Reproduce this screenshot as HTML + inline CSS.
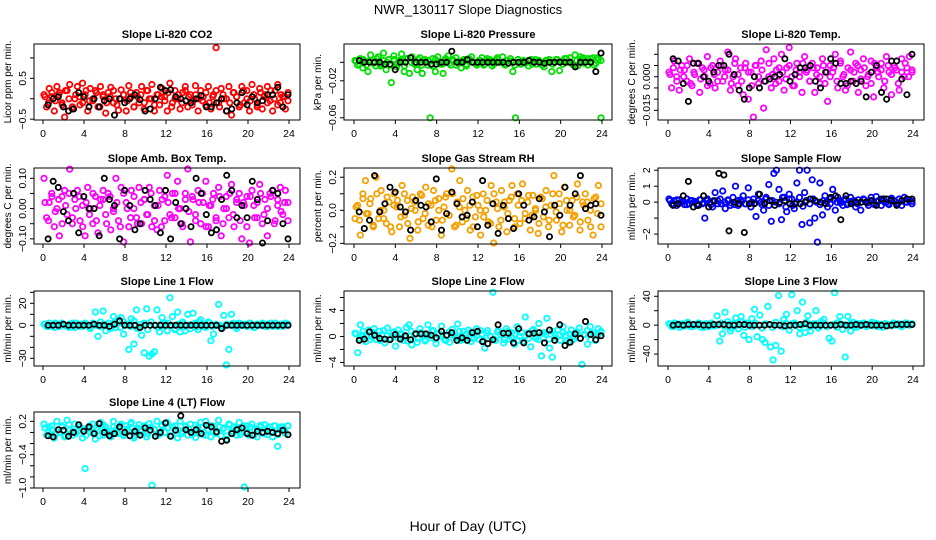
<!DOCTYPE html>
<html><head><meta charset="utf-8">
<style>
html,body{margin:0;padding:0;background:#fff;}
svg{display:block;font-family:"Liberation Sans",sans-serif;}
</style></head>
<body>
<svg id="chart" width="936" height="540" viewBox="0 0 936 540" xmlns="http://www.w3.org/2000/svg">
<rect x="0" y="0" width="936" height="540" fill="#fff"/>
<text x="468" y="14" text-anchor="middle" font-size="13">NWR_130117  Slope Diagnostics</text>
<text x="468" y="531" text-anchor="middle" font-size="14">Hour of Day (UTC)</text>
</svg>
<script>
// ---- data: colored series (all samples), dense core samples, and black series (half-hourly) ----
const xTicks = [0,4,8,12,16,20,24];
const co2Color = [0.1,-0.2,0.25,0.05,-0.3,0.3,0.15,-0.1,-0.45,0.2,0.35,-0.25,0.0,0.3,-0.15,0.38,0.1,-0.3,0.25,-0.05,0.2,-0.2,0.3,0.05,-0.35,0.15,0.28,-0.1,0.0,-0.28,0.22,0.1,-0.3,0.32,0.05,-0.2,0.15,-0.1,0.3,-0.25,0.2,0.0,0.35,-0.3,0.1,-0.15,0.25,0.05,-0.3,0.38,-0.1,0.2,0.0,-0.25,0.15,0.3,-0.2,0.1,-0.05,0.32,-0.3,0.2,0.05,-0.15,0.3,-0.25,0.1,1.25,-0.1,0.25,0.0,-0.3,0.3,-0.4,0.15,0.05,-0.2,0.3,-0.1,0.2,-0.3,0.35,0.0,-0.15,0.25,-0.25,0.1,0.3,-0.05,-0.3,0.2,0.35,-0.1,0.05,-0.25,0.15];
const co2Core = [0.05,-0.1,0.15,-0.05,0.1,-0.15,0.2,0.0,-0.2,0.1,0.05,-0.1,0.2,-0.05,0.0,0.15,-0.2,0.1,-0.1,0.05,0.2,-0.15,0.0,0.1,-0.05,0.15,-0.2,0.05,0.1,-0.1,0.2,0.0,-0.15,0.1,0.05,-0.05,0.15,-0.2,0.0,0.1,-0.1,0.2,0.05,-0.15,0.1,0.0,-0.05,0.15,-0.1,0.05,0.2,-0.2,0.1,0.0,-0.1,0.15,0.05,-0.15,0.2,0.0,-0.05,0.1,-0.2,0.15,0.05,-0.1,0.2,0.0,-0.15,0.1,0.05,-0.05];
const co2Black = [-0.15,0.0,0.05,-0.2,-0.3,-0.25,0.15,0.05,-0.2,0.0,-0.2,-0.05,0.0,-0.4,0.0,-0.1,0.0,0.1,-0.02,-0.3,-0.25,0.0,0.28,0.2,0.22,0.05,0.0,-0.05,-0.1,0.0,0.08,-0.2,-0.2,-0.1,0.0,-0.3,-0.25,-0.1,0.15,-0.15,0.05,-0.1,-0.05,0.1,0.1,0.28,-0.2,0.1];
const presColor = [0.002,-0.003,0.004,-0.006,0.001,-0.01,0.008,0.0,-0.004,0.006,-0.002,0.01,-0.008,0.003,-0.022,0.007,-0.005,0.002,0.009,-0.01,0.004,-0.012,0.006,0.0,-0.008,0.005,-0.012,0.003,-0.003,-0.06,0.004,-0.01,0.006,-0.002,-0.012,0.004,0.007,-0.003,0.002,0.005,-0.001,-0.006,0.003,-0.004,0.004,0.006,0.0,-0.003,0.002,0.005,-0.002,0.004,0.003,-0.004,0.002,0.005,0.0,0.006,-0.003,0.002,0.004,-0.01,-0.06,0.003,-0.002,0.002,0.0,-0.004,0.003,0.001,-0.002,0.002,0.0,-0.005,0.002,0.003,-0.01,0.0,0.003,-0.009,0.001,0.004,0.0,0.005,-0.002,0.008,-0.004,0.006,0.005,0.002,-0.003,0.004,0.005,-0.001,0.003,-0.06];
const presCore = [0.001,-0.002,0.003,-0.003,0.002,-0.001,0.004,-0.004,0.002,0.0,-0.003,0.003,-0.001,0.002,-0.004,0.004,0.0,-0.002,0.003,-0.003,0.001,0.002,-0.004,0.003,0.0,-0.002,0.002,-0.001,0.003,-0.003,0.001,0.002,-0.002,0.003,0.0,-0.001,0.002,-0.003,0.002,0.001,-0.002,0.003,0.0,-0.002,0.002,0.001,-0.003,0.003,0.0,-0.001,0.002,-0.002,0.003,0.001,-0.003,0.002,0.0,-0.002,0.003,0.001,-0.002,0.004,0.0,-0.003,0.002,0.003,-0.001,0.004,0.0,-0.003,0.005,0.002];
const presBlack = [0.002,0.0,0.0,0.0,0.0,-0.002,-0.002,-0.008,0.0,0.0,0.005,0.0,0.0,0.0,-0.002,-0.002,0.0,0.0,0.012,0.0,0.0,0.003,0.0,0.0,0.0,0.0,0.0,0.0,0.0,-0.001,0.0,0.0,0.0,0.002,0.0,0.0,-0.001,0.0,0.0,0.0,0.0,0.0,-0.005,0.0,0.0,0.0,-0.01,0.01];
const tempColor = [0.002,-0.005,0.007,0.0,-0.006,0.005,0.003,-0.002,0.008,-0.004,0.001,0.006,-0.007,0.004,0.0,0.009,-0.003,0.005,-0.005,0.002,0.007,-0.002,0.003,0.011,-0.006,0.0,0.008,-0.004,0.004,-0.008,0.006,-0.01,0.002,-0.018,0.005,-0.003,0.007,-0.014,0.012,0.0,-0.005,0.008,0.003,-0.002,0.01,-0.006,0.004,0.013,0.0,-0.004,0.006,0.002,-0.007,0.009,0.003,-0.002,0.006,-0.007,0.004,0.0,0.008,-0.003,-0.011,0.005,0.002,0.01,-0.005,0.007,0.0,-0.006,0.004,0.011,-0.002,0.006,-0.007,0.003,0.008,-0.004,0.001,0.007,-0.009,0.004,0.0,0.006,-0.005,0.009,0.002,-0.008,0.005,0.003,-0.006,0.008,0.0,0.004,0.009,0.002];
const tempCore = [0.001,0.004,-0.002,0.003,0.0,0.005,-0.003,0.002,0.006,-0.001,0.003,-0.004,0.004,0.001,-0.002,0.005,0.0,0.003,-0.003,0.006,0.001,-0.002,0.004,0.002,-0.004,0.005,0.0,0.003,-0.002,0.006,0.001,-0.003,0.004,0.002,-0.001,0.005,-0.004,0.003,0.0,0.006,0.002,-0.002,0.004,0.001,-0.003,0.005,0.002,0.0,0.004,-0.002,0.006,0.001,-0.004,0.003,0.002,0.005,-0.001,0.004,0.0,-0.003,0.006,0.002,0.003,-0.002,0.005,0.001,0.004,-0.003,0.002,0.006,0.0,0.003];
const tempBlack = [0.008,0.007,-0.003,-0.011,0.006,0.006,0.0,-0.002,0.002,0.005,0.005,0.01,0.001,-0.006,-0.01,-0.005,0.0,-0.005,-0.002,-0.001,0.0,0.001,0.008,-0.002,0.001,0.004,0.004,0.005,-0.002,-0.005,0.002,0.008,0.006,-0.003,-0.003,-0.002,-0.003,-0.002,-0.009,0.002,0.005,-0.007,-0.01,0.007,0.007,-0.001,-0.008,0.01];
const ambColor = [0.1,-0.03,0.02,0.05,-0.06,0.0,-0.09,0.04,0.06,-0.02,0.13,-0.05,0.03,0.06,-0.04,0.01,-0.09,0.07,0.0,-0.05,0.04,-0.08,0.03,0.06,-0.02,0.05,-0.07,0.0,0.1,-0.04,0.07,-0.11,0.02,-0.06,0.06,0.0,-0.03,0.07,-0.05,0.03,-0.02,0.07,-0.06,0.01,-0.07,0.06,0.03,-0.04,0.11,-0.02,0.05,-0.03,0.09,0.0,-0.06,0.05,0.15,-0.11,0.03,-0.02,0.06,-0.05,0.02,0.09,-0.06,0.01,0.05,-0.04,0.07,-0.09,0.0,0.04,-0.03,0.08,-0.06,0.02,0.05,-0.1,0.01,0.04,-0.12,0.06,-0.03,0.02,0.08,-0.05,0.03,-0.09,0.05,0.06,-0.04,0.01,0.07,-0.02,0.06,0.02];
const ambCore = [0.02,-0.04,0.04,-0.01,0.03,-0.05,0.01,0.05,-0.03,0.0,0.04,-0.06,0.02,-0.02,0.05,-0.04,0.01,0.03,-0.05,0.04,-0.01,0.02,-0.06,0.05,0.0,-0.03,0.04,-0.05,0.02,0.03,-0.02,0.05,-0.04,0.01,-0.06,0.04,0.02,-0.03,0.05,0.0,-0.05,0.03,-0.01,0.04,-0.04,0.02,0.05,-0.06,0.01,0.03,-0.03,0.04,-0.05,0.0,0.05,-0.02,0.03,-0.04,0.02,-0.06,0.04,0.01,-0.03,0.05,-0.02,0.0,0.04,-0.05,0.03,-0.01,0.02,-0.04];
const ambBlack = [-0.1,0.09,0.07,-0.01,-0.04,0.05,-0.08,0.04,0.0,0.0,-0.09,0.1,0.03,0.01,-0.1,0.06,0.01,-0.07,-0.05,0.06,0.03,0.01,-0.08,0.06,-0.1,0.02,-0.05,0.0,-0.06,0.1,0.05,-0.02,-0.08,-0.07,0.03,0.11,0.06,-0.03,0.01,-0.03,0.09,0.03,-0.12,-0.04,0.06,0.05,-0.05,-0.1];
const rhColor = [-0.05,0.03,-0.15,0.1,0.18,-0.02,0.07,-0.1,0.2,-0.05,0.12,0.0,-0.08,0.05,-0.13,0.1,0.02,-0.1,0.15,-0.03,0.06,-0.17,0.08,0.0,-0.12,0.1,-0.05,0.14,-0.09,0.03,0.12,-0.06,0.07,-0.15,0.02,0.1,-0.03,0.25,-0.1,0.05,0.18,-0.07,0.0,0.12,-0.12,0.08,-0.04,0.03,-0.15,0.1,0.0,-0.07,0.15,-0.2,0.05,-0.1,0.12,0.02,-0.13,0.06,0.15,-0.05,0.1,-0.08,0.16,-0.02,0.05,-0.12,0.09,0.0,-0.14,0.08,-0.04,0.12,-0.1,0.03,0.21,-0.06,0.1,-0.13,0.14,0.0,-0.09,0.06,-0.03,0.16,-0.12,0.05,0.1,-0.06,0.0,-0.15,0.08,0.15,-0.1];
const rhCore = [0.02,-0.06,0.07,-0.02,0.04,-0.09,0.1,0.0,-0.05,0.08,-0.1,0.03,0.06,-0.04,0.1,-0.08,0.01,0.05,-0.07,0.09,-0.02,0.04,-0.1,0.06,0.0,-0.06,0.08,-0.03,0.1,-0.09,0.02,0.07,-0.05,0.03,-0.1,0.09,0.0,-0.04,0.06,-0.08,0.1,0.01,-0.06,0.05,-0.02,0.08,-0.1,0.03,0.06,-0.05,0.09,-0.03,0.01,-0.08,0.07,0.02,-0.06,0.1,-0.01,0.04,-0.09,0.06,0.0,-0.04,0.08,-0.07,0.03,0.05,-0.1,0.07,-0.02,0.04];
const rhBlack = [-0.01,-0.11,-0.06,0.21,-0.01,0.04,0.14,0.11,0.02,-0.01,-0.12,0.06,0.03,0.02,-0.07,0.19,-0.12,-0.02,0.11,0.04,-0.04,-0.03,0.05,-0.1,0.18,-0.09,0.04,-0.14,0.03,-0.05,-0.11,0.1,0.03,-0.06,-0.04,0.07,-0.01,-0.16,0.03,-0.03,0.14,0.03,0.1,0.21,0.01,0.03,0.04,-0.03];
const sampColor = [0.2,-0.1,0.1,-0.2,0.15,0.0,-0.15,0.2,-0.1,0.1,0.05,-0.2,0.15,-0.1,-1.0,0.2,0.0,-0.3,0.6,-0.1,0.2,0.7,-0.4,0.1,-0.2,0.3,1.0,-0.2,0.15,0.4,-0.1,0.9,-0.3,0.2,-0.9,0.5,0.0,-0.5,0.3,1.1,-1.2,1.8,2.0,0.8,-1.1,0.3,-0.6,0.5,0.2,-0.4,1.2,2.0,-1.4,0.6,2.0,-1.3,1.4,-1.0,-2.5,1.2,-0.8,0.4,-0.3,0.2,0.8,-0.5,0.3,0.1,-0.2,0.2,-0.1,0.3,0.0,-0.3,0.15,-0.5,0.2,0.0,-0.2,0.3,-0.1,0.35,0.1,-0.2,0.2,0.0,-0.15,0.25,0.1,-0.1,0.2,-0.2,0.3,0.0,0.15,-0.1];
const sampCore = [0.1,-0.1,0.15,-0.05,0.05,-0.15,0.1,0.0,-0.1,0.15,-0.05,0.1,-0.15,0.05,0.1,-0.1,0.0,0.15,-0.05,-0.15,0.1,0.05,-0.1,0.15,0.0,-0.05,0.1,-0.15,0.2,-0.2,0.1,0.0,-0.1,0.3,-0.3,0.2,-0.2,0.0,0.3,-0.25,0.1,-0.1,0.2,0.0,-0.15,0.1,0.05,-0.1,0.15,0.0,-0.05,0.1,-0.15,0.05,0.1,-0.1,0.0,0.15,-0.05,0.1,-0.15,0.05,0.1,0.0,-0.1,0.15,0.05,-0.05,0.1,0.0,0.15,0.05];
const sampBlack = [-0.2,-0.1,0.4,1.3,-0.3,-0.2,0.4,-0.3,0.1,1.8,1.7,-1.8,0.0,-0.1,-1.9,-0.1,-0.1,0.5,-0.1,0.1,-0.2,0.0,0.1,-0.1,-0.1,-0.1,0.0,0.2,0.1,0.0,-0.1,0.3,0.4,-1.1,0.4,-0.1,0.0,0.0,0.0,0.1,-0.2,0.2,0.2,0.1,-0.2,0.1,0.2,0.2];
const l1Color = [1,-1,2,0,-2,1,-1,2,0,-1,1,2,-2,0,1,-1,2,0,-3,1,12,-10,3,13,-5,2,-3,8,-2,5,7,-8,1,-22,6,-17,14,-2,-9,-25,15,-28,-26,-24,14,-6,7,2,-5,25,8,-4,12,-6,3,-5,10,-3,11,2,-4,5,1,-2,3,-14,-8,0,19,-1,9,-37,-22,10,1,-3,2,0,1,-1,2,0,-2,1,0,2,-1,1,0,-1,2,0,1,-1,2,1];
const l1Core = [1,-1,0,2,-1,1,0,-2,1,2,-1,0,1,-2,2,0,-1,1,0,-3,2,1,-2,3,0,-1,4,-3,1,2,-4,3,0,-2,1,-1,2,0,-3,1,2,-1,0,1,-2,3,-1,0,2,-1,1,0,-2,1,0,2,-1,1,0,-1,2,-2,1,0,1,-1,2,0,-1,1,0,1];
const l1Black = [0,0,0,1,0,0,0,0,0,1,0,0,-1,1,4,0,0,0,-2,0,0,0,0,0,0,0,0,0,0,0,0,0,0,0,-3,0,0,0,0,0,0,0,0,0,0,0,0,0];
const l2Color = [0.5,-2.5,1.8,0.2,-0.8,1.0,0.0,1.2,-0.5,0.8,0.3,-1.0,1.3,-0.3,0.6,-1.5,1.0,0.2,-0.6,1.4,1.8,-1.3,0.4,-0.9,1.2,0.0,-0.7,1.8,-0.2,0.9,-1.1,0.5,1.6,-0.4,0.2,-0.9,1.1,0.0,1.9,-0.6,0.8,-0.3,1.0,-0.8,0.3,1.2,-0.5,0.4,-1.8,0.9,0.1,6.8,-0.6,1.0,0.3,-1.0,1.2,-0.4,0.6,-1.2,1.5,0.0,-0.8,3.0,0.5,-1.6,1.1,-0.3,2.0,-3.0,0.6,2.8,-1.8,-3.2,0.4,1.0,-0.6,1.5,0.2,-0.9,1.0,-0.4,0.6,1.3,-4.3,0.3,-1.2,1.5,0.5,-0.6,1.2,0.8];
const l2Core = [0.4,-0.3,0.8,0.0,-0.5,0.6,0.2,-0.6,0.9,0.1,-0.4,0.7,-0.2,0.5,0.0,-0.7,0.8,0.3,-0.3,0.6,-0.5,0.2,0.9,-0.4,0.4,0.0,-0.6,0.7,0.2,-0.2,0.8,-0.5,0.3,0.6,-0.3,0.1,0.9,-0.6,0.5,0.0,-0.4,0.7,0.2,-0.5,0.8,-0.1,0.4,-0.6,0.6,0.1,-0.3,0.9,0.0,-0.5,0.5,0.3,-0.4,0.8,-0.2,0.2,0.6,-0.6,0.4,0.0,0.7,-0.3,0.3,0.9,-0.5,0.5,0.1,0.6];
const l2Black = [-0.6,-0.4,0.7,0.2,-0.3,-0.4,-0.5,0.3,-0.4,0.1,-0.5,0.4,0.4,0.4,0.2,-0.2,0.8,0.2,0.6,-0.6,-0.2,-0.6,0.6,0.8,-0.8,-1.1,-0.5,1.8,0.5,0.5,-1.0,1.2,-1.0,0.4,0.5,0.6,-1.0,1.0,-0.6,1.8,-1.4,-0.9,0.4,-0.3,2.3,0.3,-0.5,0.1];
const l3Color = [2,-2,3,0,-3,2,-1,4,0,-2,1,3,-3,0,2,-2,3,-1,13,-22,-12,18,5,-8,2,10,-5,12,-14,3,-20,9,22,-16,14,-20,-24,26,-30,-48,-28,41,-36,8,15,-7,42,3,20,-12,32,-10,13,-8,2,20,-4,5,8,-2,-18,-22,45,3,12,-6,-44,12,-8,4,-3,2,0,3,-2,1,4,-1,2,0,-3,2,1,-1,3,0,2,-2,1,3,0,2];
const l3Core = [1,-2,2,0,-1,3,-2,1,0,2,-3,1,2,-1,0,3,-2,1,-4,2,0,4,-3,1,-2,3,0,-4,2,1,-3,4,0,-2,3,-1,2,0,-3,1,4,-2,0,2,-1,3,-2,0,1,-3,2,1,-1,3,0,-2,2,1,-1,0,3,-2,1,2,0,-1,2,1,-2,3,0,1];
const l3Black = [0,1,0,1,1,1,0,0,1,1,1,0,0,1,1,0,0,0,0,1,0,0,-1,0,0,1,2,0,0,0,0,0,0,1,0,0,1,0,1,0,0,0,-1,0,1,1,1,1];
const l4Color = [0.15,-0.05,0.1,0.05,-0.1,0.2,0.0,0.12,-0.08,0.22,0.05,-0.05,0.15,0.02,0.1,-0.1,-0.65,0.08,0.0,0.15,-0.12,0.05,0.18,-0.05,0.1,0.0,-0.08,0.2,0.05,-0.02,0.15,-0.06,0.12,0.02,0.18,-0.1,0.05,0.14,-0.04,0.1,-0.08,0.16,-0.95,0.06,0.2,-0.03,0.12,0.0,0.18,-0.06,0.1,0.04,-0.1,0.2,0.02,0.12,-0.05,0.15,0.0,-0.09,0.1,0.18,-0.04,0.2,0.05,-0.08,0.12,0.0,0.22,-0.06,0.08,-0.12,0.15,0.02,0.1,-0.05,0.18,0.0,-1.0,0.12,-0.05,0.15,0.05,-0.08,0.1,0.0,0.14,-0.04,0.1,-0.08,0.12,-0.25,0.05,0.1,-0.02,0.12];
const l4Core = [0.08,0.0,0.12,-0.04,0.05,0.1,-0.06,0.14,0.02,-0.02,0.1,0.06,-0.05,0.12,0.0,0.08,-0.06,0.14,0.04,-0.02,0.1,0.0,0.12,-0.04,0.06,0.15,-0.06,0.08,0.02,0.12,-0.03,0.1,0.05,-0.05,0.14,0.0,0.08,-0.06,0.12,0.04,-0.02,0.1,0.06,-0.04,0.13,0.0,0.09,-0.05,0.12,0.03,-0.02,0.1,0.06,-0.06,0.14,0.01,0.08,-0.04,0.12,0.0,0.1,-0.05,0.06,0.13,-0.02,0.08,0.02,0.12,-0.04,0.1,0.05,0.12];
const l4Black = [-0.06,-0.08,0.05,0.04,-0.07,0.0,0.14,0.02,0.1,-0.02,0.16,0.0,-0.06,-0.02,0.1,0.0,-0.06,0.02,-0.05,0.08,0.04,-0.07,0.0,0.17,-0.07,0.04,0.3,0.05,0.0,0.05,-0.02,0.13,0.1,0.01,-0.16,-0.14,-0.02,0.05,0.08,-0.02,-0.05,0.02,0.0,0.02,0.0,-0.02,0.04,-0.04];
const co2Ticks=[-0.5,0,0.5,1.0], co2Labels=["-0.5","","0.5",""];
const presTicks=[0,-0.02,-0.04,-0.06], presLabels=["","-0.02","","-0.06"];
const tempTicks=[0.010,0.005,0,-0.005,-0.010,-0.015], tempLabels=["","","0.000","","","-0.015"];
const ambTicks=[0.10,0.05,0,-0.05,-0.10], ambLabels=["0.10","","0.00","","-0.10"];
const rhTicks=[0.2,0.1,0,-0.1,-0.2], rhLabels=["0.2","","0.0","","-0.2"];
const sampTicks=[2,1,0,-1,-2], sampLabels=["2","1","0","","-2"];
const l1Ticks=[30,20,10,0,-10,-20,-30], l1Labels=["","20","","0","","","-30"];
const l2Ticks=[6,4,2,0,-2,-4], l2Labels=["","4","","0","","-4"];
const l3Ticks=[40,20,0,-20,-40], l3Labels=["40","","0","","-40"];
const l4Ticks=[0.2,0.0,-0.2,-0.4,-0.6,-0.8,-1.0], l4Labels=["0.2","","","-0.4","","","-1.0"];

// ---- layout ----
const panels = [
 {name:"co2",title:"Slope Li-820 CO2",ylab:"Licor ppm per min.",col:"#ff0000",c:co2Color,k:co2Core,b:co2Black,t:co2Ticks,l:co2Labels,bx:[34,300],hx:[43,289],by:[44,120],yr:[1.34,-0.52]},
 {name:"pressure",title:"Slope Li-820 Pressure",ylab:"kPa per min.",col:"#00e000",c:presColor,k:presCore,b:presBlack,t:presTicks,l:presLabels,bx:[344,612],hx:[354,602],by:[44,120],yr:[0.0198,-0.0624]},
 {name:"li820-temp",title:"Slope Li-820 Temp.",ylab:"degrees C per min.",col:"#ff00ff",c:tempColor,k:tempCore,b:tempBlack,t:tempTicks,l:tempLabels,bx:[658,924],hx:[668,913],by:[44,120],yr:[0.0146,-0.0193]},
 {name:"amb-box-temp",title:"Slope Amb. Box Temp.",ylab:"degrees C per min.",col:"#ff00ff",c:ambColor,k:ambCore,b:ambBlack,t:ambTicks,l:ambLabels,bx:[34,300],hx:[43,289],by:[168,244],yr:[0.134,-0.117]},
 {name:"gas-stream-rh",title:"Slope Gas Stream RH",ylab:"percent per min.",col:"#f5a000",c:rhColor,k:rhCore,b:rhBlack,t:rhTicks,l:rhLabels,bx:[344,612],hx:[354,602],by:[168,244],yr:[0.256,-0.204]},
 {name:"sample-flow",title:"Slope Sample Flow",ylab:"ml/min per min.",col:"#0000ff",c:sampColor,k:sampCore,b:sampBlack,t:sampTicks,l:sampLabels,bx:[658,924],hx:[668,913],by:[168,244],yr:[2.14,-2.62]},
 {name:"line1-flow",title:"Slope Line 1 Flow",ylab:"ml/min per min.",col:"#00ffff",c:l1Color,k:l1Core,b:l1Black,t:l1Ticks,l:l1Labels,bx:[34,300],hx:[43,289],by:[291,366],yr:[31.2,-37]},
 {name:"line2-flow",title:"Slope Line 2 Flow",ylab:"ml/min per min.",col:"#00ffff",c:l2Color,k:l2Core,b:l2Black,t:l2Ticks,l:l2Labels,bx:[344,612],hx:[354,602],by:[291,366],yr:[7.0,-4.55]},
 {name:"line3-flow",title:"Slope Line 3 Flow",ylab:"ml/min per min.",col:"#00ffff",c:l3Color,k:l3Core,b:l3Black,t:l3Ticks,l:l3Labels,bx:[658,924],hx:[668,913],by:[291,366],yr:[47.3,-56.5]},
 {name:"line4-flow",title:"Slope Line 4 (LT) Flow",ylab:"ml/min per min.",col:"#00ffff",c:l4Color,k:l4Core,b:l4Black,t:l4Ticks,l:l4Labels,bx:[34,300],hx:[43,289],by:[412,488],yr:[0.368,-1.0]}
];

const NS="http://www.w3.org/2000/svg";
const svg=document.getElementById('chart');
function mk(tag,attrs,parent){const e=document.createElementNS(NS,tag);for(const k in attrs)e.setAttribute(k,attrs[k]);(parent||svg).appendChild(e);return e;}

panels.forEach(p=>{
  const g=mk('g',{});
  
  
  const xs=h=>p.hx[0]+(p.hx[1]-p.hx[0])*h/24;
  const ys=v=>p.by[0]+(p.by[1]-p.by[0])*(p.yr[0]-v)/(p.yr[0]-p.yr[1]);
  const clipY=v=>Math.max(p.by[0]+1,Math.min(p.by[1]-1,ys(v)));
  // colored points
  const cg=mk('g',{fill:'none',stroke:p.col,'stroke-width':1.8},g);
  
  
  p.c.forEach((v,i)=>{
    const h=0.1+i*23.8/(p.c.length-1);
    const c=mk('circle',{cx:xs(h).toFixed(1),cy:clipY(v).toFixed(1),r:2.7},cg);
    
    
  });
  p.k.forEach((v,i)=>{
    const h=0.2+i*23.7/(p.k.length-1);
    const c=mk('circle',{cx:xs(h).toFixed(1),cy:clipY(v).toFixed(1),r:2.7},cg);
    
    
  });
  // black points
  const bg=mk('g',{fill:'none',stroke:'#000','stroke-width':1.8},g);
  
  
  p.b.forEach((v,i)=>{
    const h=0.5+i*23.4/(p.b.length-1);
    const c=mk('circle',{cx:xs(h).toFixed(1),cy:clipY(v).toFixed(1),r:2.6},bg);
    
    
  });
  // box
  const box=mk('rect',{x:p.bx[0],y:p.by[0],width:p.bx[1]-p.bx[0],height:p.by[1]-p.by[0],fill:'none',stroke:'#000','stroke-width':1},g);
  
  
  // title
  const t=mk('text',{x:(p.bx[0]+p.bx[1])/2,y:p.by[0]-6,'text-anchor':'middle','font-size':11,'font-weight':'bold'},g);
  t.textContent=p.title;
  
  
  // x axis
  const xa=mk('g',{stroke:'#000','stroke-width':1},g);
  
  
  mk('line',{x1:xs(0),x2:xs(24),y1:p.by[1],y2:p.by[1]},xa);
  xTicks.forEach(h=>{
    mk('line',{x1:xs(h),x2:xs(h),y1:p.by[1],y2:p.by[1]+4},xa);
    const tl=mk('text',{x:xs(h),y:p.by[1]+17,'text-anchor':'middle','font-size':10.5,stroke:'none'},xa);
    tl.textContent=h;
    
    
  });
  // y axis
  const ya=mk('g',{stroke:'#000','stroke-width':1},g);
  
  
  const tv=p.t.filter(v=>ys(v)>=p.by[0]-0.5&&ys(v)<=p.by[1]+0.5);
  mk('line',{x1:p.bx[0],x2:p.bx[0],y1:ys(Math.max(...tv)),y2:ys(Math.min(...tv))},ya);
  p.t.forEach((v,i)=>{
    const y=ys(v);
    if(y<p.by[0]-0.5||y>p.by[1]+0.5)return;
    mk('line',{x1:p.bx[0]-4,x2:p.bx[0],y1:y,y2:y},ya);
    if(p.l[i]){
      const x=p.bx[0]-8;
      const tl=mk('text',{x:x,y:y,'text-anchor':'middle','font-size':10.5,stroke:'none',transform:`rotate(-90 ${x} ${y})`},ya);
      tl.textContent=p.l[i].replace('-','\u2212');
      
      
    }
  });
  const yx=p.bx[0]-23, yy=(p.by[0]+p.by[1])/2;
  const yl=mk('text',{x:yx,y:yy,'text-anchor':'middle','font-size':10,transform:`rotate(-90 ${yx} ${yy})`},g);
  yl.textContent=p.ylab;
  
  
});
</script>
</body></html>
